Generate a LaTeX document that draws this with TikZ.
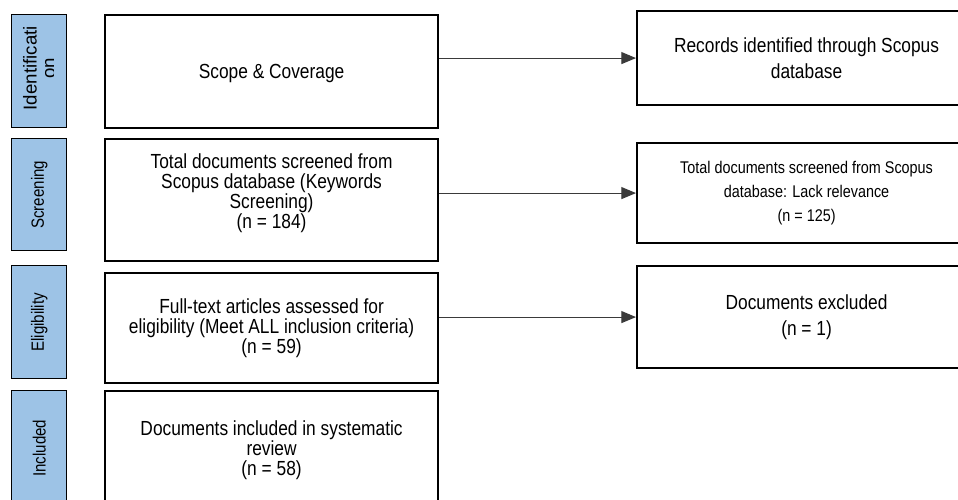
\documentclass[tikz,border=0pt]{standalone}
\usepackage{fontspec}
\setmainfont{Liberation Sans}[FakeStretch=0.85]
\newfontfamily\identfont{Liberation Sans}
\usetikzlibrary{arrows.meta}

\definecolor{phaseblue}{HTML}{9DC3E6}
\definecolor{linkgray}{HTML}{3A3A3A}

\newcommand\leftfont{\fontsize{15.3}{15}\selectfont}
\newcommand\rightfont{\fontsize{15.3}{19}\selectfont}
\newcommand\smallrightfont{\fontsize{12.7}{18}\selectfont}
\newcommand\phasefont{\fontsize{13.3}{13}\selectfont}
\newcommand\identsize{\identfont\fontsize{14}{13.8}\selectfont}

\tikzset{
  phasebox/.style={draw=black, line width=1.1pt, fill=phaseblue,
    anchor=north west, inner sep=0pt, minimum width=41.25pt},
  phaselabel/.style={rotate=90, align=center, font=\phasefont, inner sep=0pt},
  stagebox/.style={draw=black, line width=1.6pt, fill=white,
    anchor=north west, inner sep=2pt, align=center, font=\leftfont,
    minimum width=249.75pt},
  stagetext/.style={align=center, font=\leftfont, inner sep=0pt},
  outbox/.style={draw=black, line width=1.6pt, fill=white,
    anchor=north west, inner sep=2pt, align=center, font=\rightfont,
    minimum width=254.25pt},
  flow/.style={draw=linkgray, line width=0.8pt,
    -{Triangle[length=11pt,width=9pt]}}
}

\begin{document}
\begin{tikzpicture}[x=1pt,y=-1pt]
  \useasboundingbox (0,0) rectangle (718.5,375);
  \clip (0,0) rectangle (718.5,375);

  % phase column
  \node[phasebox, minimum height=84.75pt] (pident) at (8.25,10.5) {};
  \node[phasebox, minimum height=84pt]    (pscreen) at (8.25,103.5) {};
  \node[phasebox, minimum height=84.75pt] (pelig) at (8.25,198.75) {};
  \node[phasebox, minimum height=86.25pt] (pincl) at (8.25,292.5) {};

  % the wrapped second line of this label is cut off by its frame
  \begin{scope}
    \clip (pident.north west) rectangle ([xshift=-10.5pt]pident.south east);
    \node[phaselabel, font=\identsize, xshift=2.3pt]
      (tident) at (pident.center) {Identificati\\on};
  \end{scope}
  \node[phaselabel] (tscreen) at (pscreen.center) {Screening};
  \node[phaselabel] (telig) at (pelig.center) {Eligibility};
  \node[phaselabel] (tincl) at (pincl.center) {Included};

  % main stages
  \node[stagebox, minimum height=84.75pt] (scope) at (78,10.5) {};
  \node[stagetext] (scopetext) at ([yshift=-1.5pt]scope.center) {Scope \& Coverage};
  \node[stagebox, minimum height=91.5pt] (screen) at (78,103.5) {};
  \node[stagetext] (screentext) at ([yshift=5pt]screen.center)
    {Total documents screened from\\Scopus database (Keywords\\Screening)\\(n = 184)};
  \node[stagebox, minimum height=82.5pt] (elig) at (78,204)
    {Full-text articles assessed for\\eligibility (Meet ALL inclusion criteria)\\(n = 59)};
  \node[stagebox, minimum height=88.5pt] (incl) at (78,292.5)
    {Documents included in systematic\\review\\(n = 58)};

  % side outcomes
  \node[outbox, minimum height=70.5pt] (records) at (477,7.5)
    {Records identified through Scopus\\database};
  \node[outbox, minimum height=75pt, font=\smallrightfont] (lack) at (477,106.5)
    {Total documents screened from Scopus\\database: Lack relevance\\(n = 125)};
  \node[outbox, minimum height=76.5pt] (excl) at (477,198.75)
    {Documents excluded\\(n = 1)};

  % connectors
  \draw[flow] (scope.east |- records.west) -- (records.west);
  \draw[flow] (screen.east |- lack.west) -- (lack.west);
  \draw[flow] (elig.east |- excl.west) -- (excl.west);
\end{tikzpicture}
\end{document}
